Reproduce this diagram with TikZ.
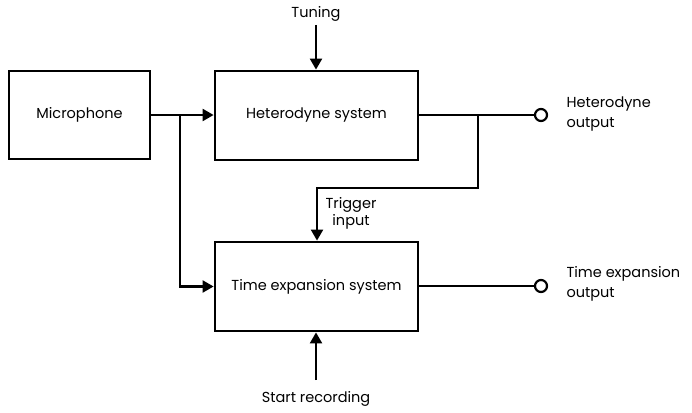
\documentclass[tikz,border=0pt]{standalone}
\usepackage{fontspec}
\setmainfont{Poppins}
\usetikzlibrary{arrows.meta,positioning}

\begin{document}
\begin{tikzpicture}[x=1pt,y=-1pt,font=\fontsize{14.5}{20}\selectfont]
                    \tikzstyle{block}=[draw, line width=2.8pt, minimum width=203pt, minimum height=89pt, inner sep=0pt]
                    \tikzstyle{wire}=[line width=2.2pt]
                    \tikzstyle{arr}=[wire, -{Triangle[length=11pt,width=12pt]}]
                    \tikzstyle{term}=[draw, circle, line width=2.2pt, minimum size=12pt, inner sep=0pt]
                    \useasboundingbox (0,0) rectangle (692,412);
                    % blocks
                    \node [block, minimum width=141pt, minimum height=88pt] (mic) at (79.5,115) {Microphone};
                    \node [block] (het) at (316.5,115.5) {Heterodyne system};
                    \node [block] (tex) at (316.5,286.5) {Time expansion system};
                    % inputs
                    \node (tun) at (316,14) {Tuning};
                    \node (rec) at (316,399) {Start recording};
                    \coordinate (tunend) at (316,25);
                    \coordinate (recend) at (316,380);
                    \draw [arr] (tunend) -- (het.north -| tunend);
                    \draw [arr] (recend) -- (tex.south -| recend);
                    % microphone to both systems
                    \coordinate (split) at (180,115);
                    \draw [arr] (mic.east |- split) -- (het.west |- split);
                    \draw [arr] (split) |- (tex.west);
                    % outputs
                    \node [term] (hout) at (541,115) {};
                    \node [term] (tout) at (541,286) {};
                    \draw [wire] (het.east |- hout) -- (hout);
                    \draw [wire] (tex.east |- tout) -- (tout);
                    \node [right, align=left] (houtl) at (563,114) {Heterodyne\\output};
                    \node [right, align=left] (toutl) at (563,284) {Time expansion\\output};
                    % trigger
                    \coordinate (tap) at (478,115);
                    \coordinate (bend) at (317,188);
                    \draw [arr] (tap) |- (bend) -- (tex.north -| bend);
                    \node [align=center] (trig) at (351,213) {Trigger\\[-3pt]input};
                \end{tikzpicture}
\end{document}
